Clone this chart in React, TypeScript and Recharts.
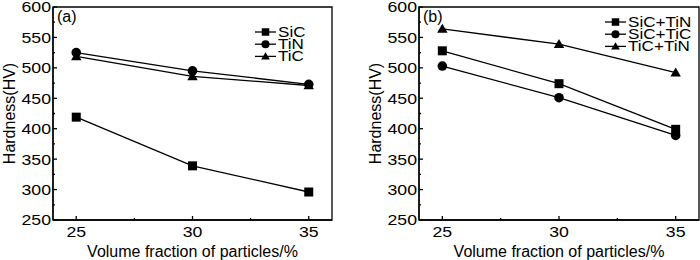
import React from 'react';
import { LineChart, Line, XAxis, YAxis, ReferenceArea, Legend } from 'recharts';

// volume fraction of particles (%)
const fractions = [25, 30, 35];
const xTicks = [25, 27.5, 30, 32.5, 35];
const yTicks = [250, 275, 300, 325, 350, 375, 400, 425, 450, 475, 500, 525, 550, 575, 600];

// panel (a): single particles
const sic = [419, 339, 296];
const tin = [525, 495, 473];
const tic = [519, 486, 471];

// panel (b): mixed particles
const sicTin = [528, 474, 399];
const sicTic = [503, 451, 389];
const ticTin = [564, 539, 492];

type Shape = 'square' | 'circle' | 'triangle';
type Series = { key: string; name: string; shape: Shape; values: number[] };

const seriesA: Series[] = [
  { key: 'sic', name: 'SiC', shape: 'square', values: sic },
  { key: 'tin', name: 'TiN', shape: 'circle', values: tin },
  { key: 'tic', name: 'TiC', shape: 'triangle', values: tic },
];
const seriesB: Series[] = [
  { key: 'sictin', name: 'SiC+TiN', shape: 'square', values: sicTin },
  { key: 'sictic', name: 'SiC+TiC', shape: 'circle', values: sicTic },
  { key: 'tictin', name: 'TiC+TiN', shape: 'triangle', values: ticTin },
];

const buildRows = (series: Series[]) =>
  fractions.map((f, i) => {
    const row: Record<string, number> = { x: f };
    series.forEach((s) => (row[s.key] = s.values[i]));
    return row;
  });

const Marker = ({ shape, cx, cy, size }: { shape: Shape; cx: number; cy: number; size: number }) => {
  if (shape === 'square') {
    return <rect x={cx - size / 2} y={cy - size / 2} width={size} height={size} fill="#000" />;
  }
  if (shape === 'circle') {
    return <circle cx={cx} cy={cy} r={size / 2 + 0.3} fill="#000" />;
  }
  const h = size * 0.95;
  return (
    <polygon
      points={`${cx},${cy - h * 0.6} ${cx - size * 0.58},${cy + h * 0.45} ${cx + size * 0.58},${cy + h * 0.45}`}
      fill="#000"
    />
  );
};

// the source figure's small text is slightly stretched sideways
const Wide = ({ x, y, anchor, children, baseline }: any) => (
  <text
    transform={`translate(${x},${y}) scale(1.18,1)`}
    textAnchor={anchor}
    dominantBaseline={baseline}
    fontSize={15}
    fill="#000"
  >
    {children}
  </text>
);

const XTick = (props: any) => {
  const { x, y, payload } = props;
  const major = payload.value % 5 === 0;
  return (
    <g>
      <line x1={x} x2={x} y1={y} y2={y - (major ? 4 : 2)} stroke="#000" strokeWidth={1.3} />
      {major && (
        <Wide x={x} y={y + 16.5} anchor="middle">
          {payload.value}
        </Wide>
      )}
    </g>
  );
};

const YTick = (props: any) => {
  const { x, y, payload } = props;
  const major = payload.value % 50 === 0;
  return (
    <g>
      <line x1={x} x2={x + (major ? 4 : 2)} y1={y} y2={y} stroke="#000" strokeWidth={1.3} />
      {major && (
        <Wide x={x - 2} y={y} anchor="end" baseline="central">
          {payload.value}
        </Wide>
      )}
    </g>
  );
};

const LegendBox = ({ series }: { series: Series[] }) => (
  <svg width={95} height={40} style={{ display: 'block', overflow: 'visible' }}>
    {series.map((s, i) => {
      const cy = 6 + i * 12.2;
      return (
        <g key={s.key}>
          <line x1={0} x2={21} y1={cy} y2={cy} stroke="#000" strokeWidth={1.3} />
          <Marker shape={s.shape} cx={10.5} cy={cy} size={7.5} />
          <text
            transform={`translate(23,${cy}) scale(1.22,1)`}
            dominantBaseline="central"
            fontSize={14}
            fill="#000"
          >
            {s.name}
          </text>
        </g>
      );
    })}
  </svg>
);

type PanelProps = {
  series: Series[];
  tag: string;
  yAxisWidth: number;
  right: number;
  labelOffset: number;
  legendTop: number;
};

const Panel = ({ series, tag, yAxisWidth, right, labelOffset, legendTop }: PanelProps) => (
  <LineChart
    width={350}
    height={260}
    data={buildRows(series)}
    margin={{ top: 7, right, bottom: 0, left: 0 }}
  >
    <XAxis
      dataKey="x"
      type="number"
      domain={[24, 36]}
      ticks={xTicks}
      interval={0}
      height={40}
      tickSize={0}
      tickMargin={0}
      tickLine={false}
      tick={<XTick />}
      axisLine={{ stroke: '#000', strokeWidth: 1.3 }}
      label={{
        value: 'Volume fraction of particles/%',
        position: 'insideBottom',
        offset: 3,
        fontSize: 16,
        fill: '#000',
      }}
    />
    <YAxis
      type="number"
      domain={[250, 600]}
      ticks={yTicks}
      interval={0}
      width={yAxisWidth}
      tickSize={0}
      tickMargin={0}
      tickLine={false}
      tick={<YTick />}
      axisLine={{ stroke: '#000', strokeWidth: 1.3 }}
      label={{
        value: 'Hardness(HV)',
        angle: -90,
        position: 'insideLeft',
        offset: labelOffset,
        fontSize: 16,
        fill: '#000',
        style: { textAnchor: 'middle' },
      }}
    />
    <ReferenceArea
      x1={24}
      x2={36}
      y1={250}
      y2={600}
      fill="none"
      stroke="#000"
      strokeWidth={1.3}
      label={{ value: tag, position: 'insideTopLeft', offset: 4, fontSize: 16, fill: '#000' }}
    />
    {series.map((s) => (
      <Line
        key={s.key}
        dataKey={s.key}
        name={s.name}
        type="linear"
        stroke="#000"
        strokeWidth={1.3}
        isAnimationActive={false}
        dot={(p: any) => <Marker key={`${s.key}-${p.index}`} shape={s.shape} cx={p.cx} cy={p.cy} size={9} />}
        activeDot={false}
      />
    ))}
    <Legend
      layout="vertical"
      align="center"
      verticalAlign="middle"
      wrapperStyle={{ left: 255, top: legendTop, width: 'auto', height: 'auto' }}
      content={() => <LegendBox series={series} />}
    />
  </LineChart>
);

export default function App() {
  return (
    <div
      style={{
        position: 'absolute',
        left: 0,
        top: 0,
        width: 700,
        height: 260,
        display: 'flex',
        background: '#fff',
        fontFamily: '"Liberation Sans", Arial, sans-serif',
      }}
    >
      <Panel series={seriesA} tag="(a)" yAxisWidth={53} right={18} labelOffset={9} legendTop={25.7} />
      <Panel series={seriesB} tag="(b)" yAxisWidth={69} right={1} labelOffset={25} legendTop={15.7} />
    </div>
  );
}
